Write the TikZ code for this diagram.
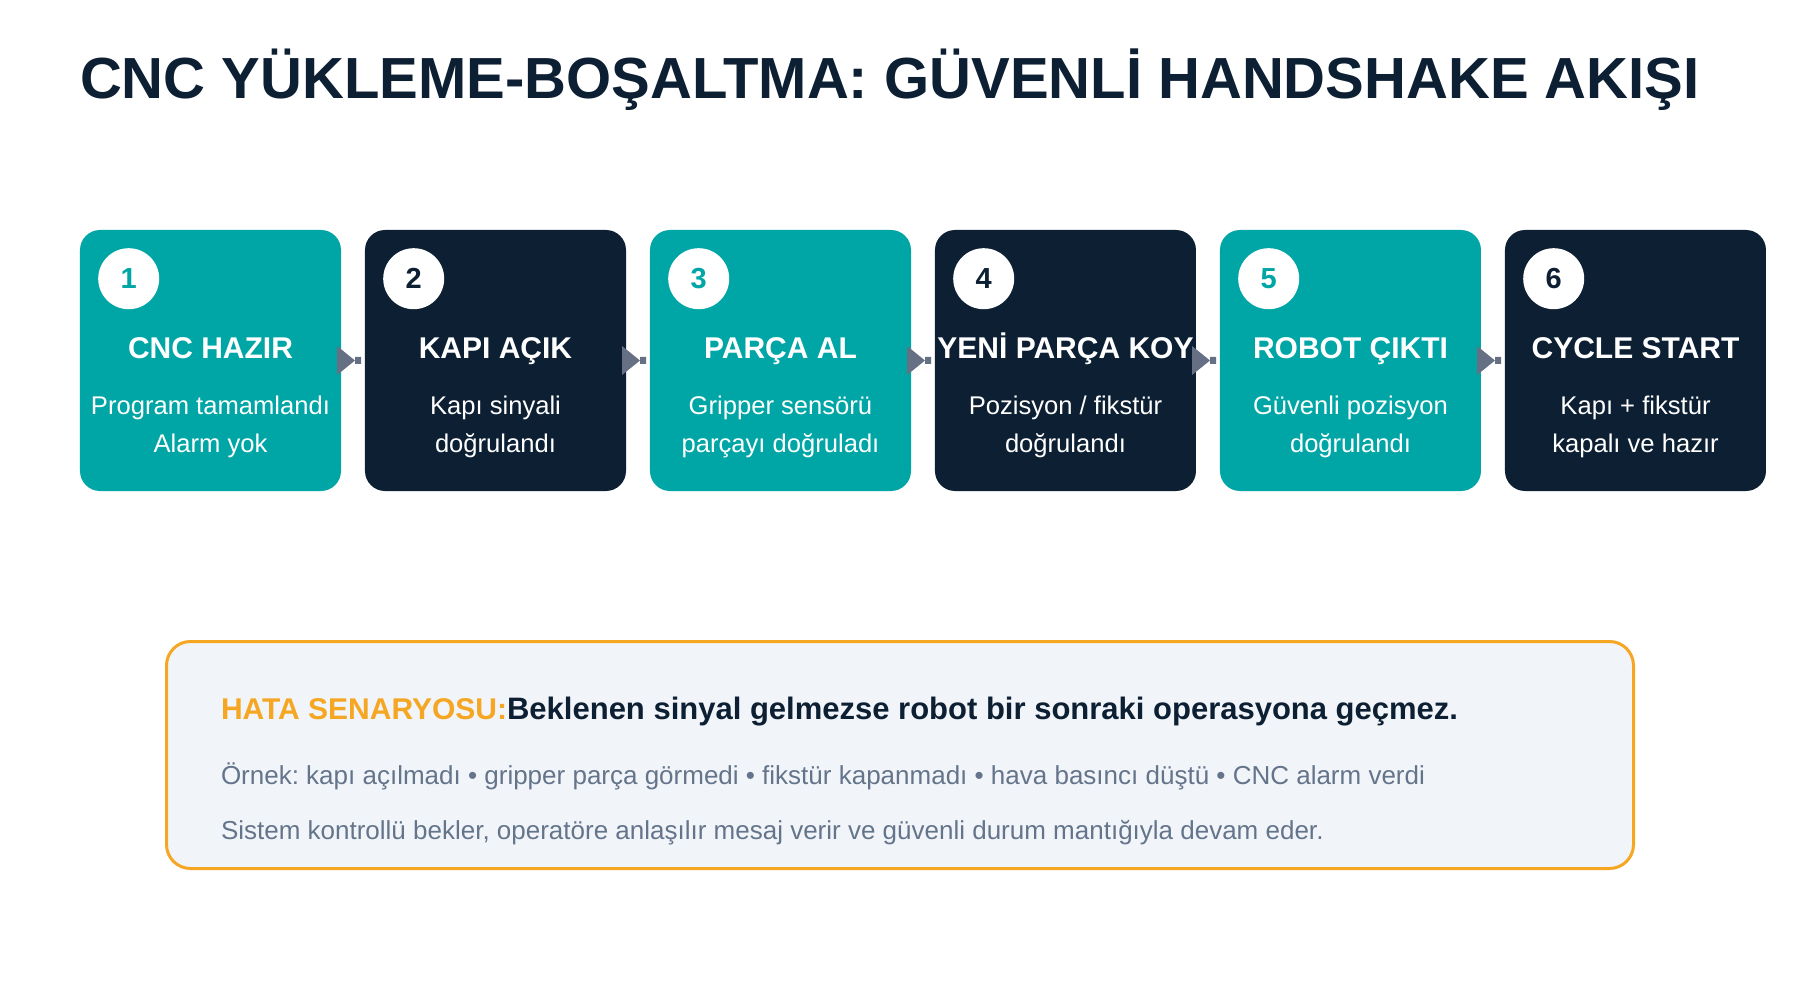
\documentclass[tikz,border=0pt]{standalone}
\usepackage{fontspec}
\setmainfont{Liberation Sans}
\usepackage{xcolor}
\usepackage{tikz}
\usetikzlibrary{matrix,positioning}
\definecolor{stepteal}{HTML}{00A6A6}
\definecolor{stepnavy}{HTML}{0D1F33}
\definecolor{arrowgray}{HTML}{667085}
\definecolor{warnorange}{HTML}{F5A623}
\definecolor{warnfill}{HTML}{F1F5F9}
\definecolor{notegray}{HTML}{64748B}
\frenchspacing

\begin{document}
\begin{tikzpicture}[
    x=1pt, y=-1pt,
    nosep/.style={inner sep=0, outer sep=0},
    steprow/.style={
        matrix of nodes,
        nosep,
        column sep=24pt,
        nodes in empty cells,
        nodes={rectangle, nosep, rounded corners=20pt, minimum width=261pt, minimum height=261pt},
    column 1/.style={nodes={fill=stepteal}},
    column 2/.style={nodes={fill=stepnavy}},
    column 3/.style={nodes={fill=stepteal}},
    column 4/.style={nodes={fill=stepnavy}},
    column 5/.style={nodes={fill=stepteal}},
    column 6/.style={nodes={fill=stepnavy}}   },
    badge/.style={circle, fill=white, nosep, minimum size=61pt, font=\bfseries\fontsize{29}{29}\selectfont},
    steptitle/.style={nosep, anchor=base, text=white, font=\bfseries\fontsize{30}{30}\selectfont},
    stepnote/.style={nosep, anchor=base, text=white, align=center, font=\fontsize{25.6}{37.7}\selectfont},
    flowarrow/.style={fill=arrowgray},
    warnpanel/.style={rectangle, rounded corners=24pt, draw=warnorange, line width=3pt, fill=warnfill, minimum width=1467pt, minimum height=227pt, inner sep=0},
    warnline/.style={nosep, anchor=base west, text=stepnavy, font=\bfseries\fontsize{31}{31}\selectfont},
    noteline/.style={nosep, anchor=base west, text=notegray, font=\fontsize{26}{26}\selectfont}]
\path[fill=white, use as bounding box] (0,0) rectangle (1800,1000);

\node (HSKTITLE) [nosep, anchor=base west, text=stepnavy, font=\bfseries\fontsize{58}{58}\selectfont] at (80,98.5) {CNC YÜKLEME-BOŞALTMA: GÜVENLİ HANDSHAKE AKIŞI};

\matrix (HSKFLOW) [steprow, anchor=north west, ampersand replacement=\&] at (80,230) {
  \& \& \& \& \& \\
};

\node (num1) [badge, text=stepteal] at ([xshift=48.7pt, yshift=-48.7pt]HSKFLOW-1-1.north west) {1};
\node (num2) [badge, text=stepnavy] at ([xshift=48.7pt, yshift=-48.7pt]HSKFLOW-1-2.north west) {2};
\node (num3) [badge, text=stepteal] at ([xshift=48.7pt, yshift=-48.7pt]HSKFLOW-1-3.north west) {3};
\node (num4) [badge, text=stepnavy] at ([xshift=48.7pt, yshift=-48.7pt]HSKFLOW-1-4.north west) {4};
\node (num5) [badge, text=stepteal] at ([xshift=48.7pt, yshift=-48.7pt]HSKFLOW-1-5.north west) {5};
\node (num6) [badge, text=stepnavy] at ([xshift=48.7pt, yshift=-48.7pt]HSKFLOW-1-6.north west) {6};

\node (head1) [steptitle] at ([yshift=-128.3pt]HSKFLOW-1-1.north) {CNC HAZIR};
\node (head2) [steptitle] at ([yshift=-128.3pt]HSKFLOW-1-2.north) {KAPI AÇIK};
\node (head3) [steptitle] at ([yshift=-128.3pt]HSKFLOW-1-3.north) {PARÇA AL};
\node (head4) [steptitle] at ([yshift=-128.3pt]HSKFLOW-1-4.north) {YENİ PARÇA KOY};
\node (head5) [steptitle] at ([yshift=-128.3pt]HSKFLOW-1-5.north) {ROBOT ÇIKTI};
\node (head6) [steptitle] at ([yshift=-128.3pt]HSKFLOW-1-6.north) {CYCLE START};

\node (note1) [stepnote] at ([yshift=-222pt]HSKFLOW-1-1.north) {Program tamamlandı\\Alarm yok};
\node (note2) [stepnote] at ([yshift=-222pt]HSKFLOW-1-2.north) {Kapı sinyali\\doğrulandı};
\node (note3) [stepnote] at ([yshift=-222pt]HSKFLOW-1-3.north) {Gripper sensörü\\parçayı doğruladı};
\node (note4) [stepnote] at ([yshift=-222pt]HSKFLOW-1-4.north) {Pozisyon / fikstür\\doğrulandı};
\node (note5) [stepnote] at ([yshift=-222pt]HSKFLOW-1-5.north) {Güvenli pozisyon\\doğrulandı};
\node (note6) [stepnote] at ([yshift=-222pt]HSKFLOW-1-6.north) {Kapı + fikstür\\kapalı ve hazır};

% arrows between the step boxes
\path[flowarrow] ([xshift=-4pt, yshift=14.5pt]HSKFLOW-1-1.east) -- ([xshift=14pt]HSKFLOW-1-1.east) -- ([xshift=-4pt, yshift=-14.5pt]HSKFLOW-1-1.east) -- cycle ([xshift=14pt, yshift=3.5pt]HSKFLOW-1-1.east) rectangle ([xshift=-4pt, yshift=-3.5pt]HSKFLOW-1-2.west);
\path[flowarrow] ([xshift=-4pt, yshift=14.5pt]HSKFLOW-1-2.east) -- ([xshift=14pt]HSKFLOW-1-2.east) -- ([xshift=-4pt, yshift=-14.5pt]HSKFLOW-1-2.east) -- cycle ([xshift=14pt, yshift=3.5pt]HSKFLOW-1-2.east) rectangle ([xshift=-4pt, yshift=-3.5pt]HSKFLOW-1-3.west);
\path[flowarrow] ([xshift=-4pt, yshift=14.5pt]HSKFLOW-1-3.east) -- ([xshift=14pt]HSKFLOW-1-3.east) -- ([xshift=-4pt, yshift=-14.5pt]HSKFLOW-1-3.east) -- cycle ([xshift=14pt, yshift=3.5pt]HSKFLOW-1-3.east) rectangle ([xshift=-4pt, yshift=-3.5pt]HSKFLOW-1-4.west);
\path[flowarrow] ([xshift=-4pt, yshift=14.5pt]HSKFLOW-1-4.east) -- ([xshift=14pt]HSKFLOW-1-4.east) -- ([xshift=-4pt, yshift=-14.5pt]HSKFLOW-1-4.east) -- cycle ([xshift=14pt, yshift=3.5pt]HSKFLOW-1-4.east) rectangle ([xshift=-4pt, yshift=-3.5pt]HSKFLOW-1-5.west);
\path[flowarrow] ([xshift=-4pt, yshift=14.5pt]HSKFLOW-1-5.east) -- ([xshift=14pt]HSKFLOW-1-5.east) -- ([xshift=-4pt, yshift=-14.5pt]HSKFLOW-1-5.east) -- cycle ([xshift=14pt, yshift=3.5pt]HSKFLOW-1-5.east) rectangle ([xshift=-4pt, yshift=-3.5pt]HSKFLOW-1-6.west);

\node (warnbox) [warnpanel] at (900,755) {};
\node (warnhead) [warnline] at ([xshift=56pt, yshift=-79.3pt]warnbox.north west) {\textcolor{warnorange}{\fontsize{30}{30}\selectfont HATA SENARYOSU:}Beklenen sinyal gelmezse robot bir sonraki operasyona geçmez.};
\node (warnex) [noteline] at ([xshift=56pt, yshift=-144pt]warnbox.north west) {Örnek: kapı açılmadı • gripper parça görmedi • fikstür kapanmadı • hava basıncı düştü • CNC alarm verdi};
\node (warnact) [noteline] at ([xshift=56pt, yshift=-199pt]warnbox.north west) {Sistem kontrollü bekler, operatöre anlaşılır mesaj verir ve güvenli durum mantığıyla devam eder.};

\end{tikzpicture}
\end{document}
